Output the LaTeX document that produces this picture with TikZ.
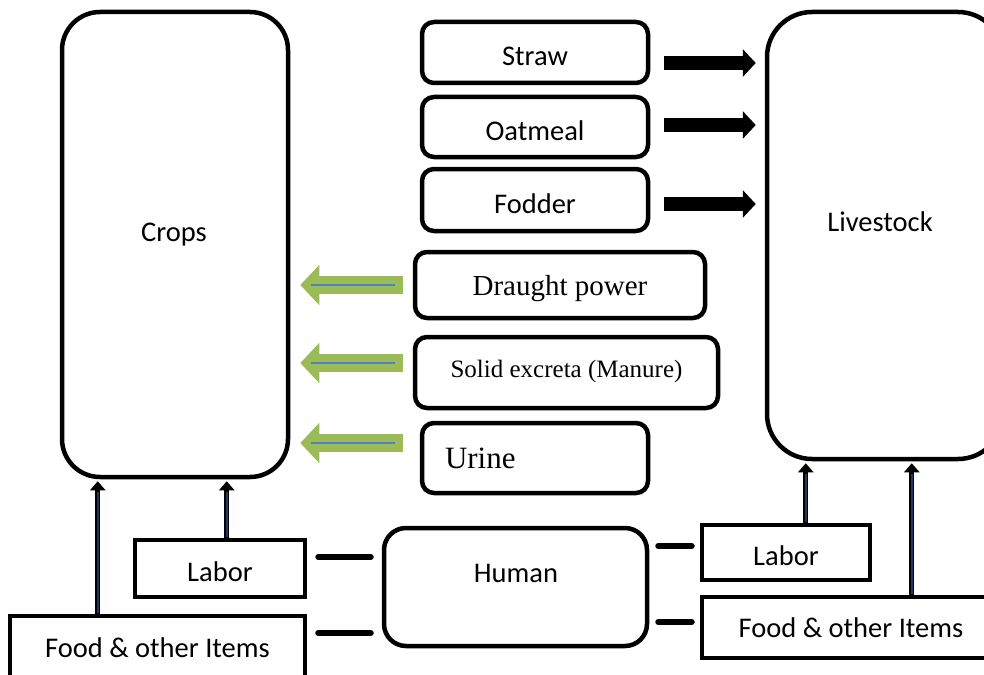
\documentclass[tikz,border=0pt]{standalone}
\usepackage{fontspec}
\setmainfont{Carlito}
\newfontfamily\tnr{Liberation Serif}
\usetikzlibrary{arrows.meta,calc}
\definecolor{agreen}{HTML}{9BBB59}
\definecolor{ablue}{HTML}{4F81BD}
\definecolor{anavy}{HTML}{1F3864}
\tikzset{
  rbox/.style={draw=black, line width=4.5pt, rounded corners=#1, fill=white, inner sep=0pt,
    font=\fontsize{28.5}{34}\selectfont},
  sbox/.style={draw=black, line width=4.5pt, fill=white, inner sep=0pt,
    font=\fontsize{28.5}{34}\selectfont},
  lowtext/.style={text height=28pt, text depth=2pt},
  barrow/.style={line width=14pt, -{Triangle[length=13pt,width=27pt]}},
  garrow/.style={line width=18pt, agreen, -{Triangle[length=19pt,width=39pt]}},
  gline/.style={line width=2.2pt, ablue},
  varrow/.style={line width=5pt, black, -{Triangle[length=9pt,width=15pt]}},
  vinner/.style={line width=1.6pt, anavy, shorten >=11pt, shorten <=1pt},
  conn/.style={line width=6pt, line cap=round},
}
\begin{document}
\begin{tikzpicture}[x=1pt,y=-1pt]
\useasboundingbox (0,0) rectangle (984,674);
\fill[white] (0,0) rectangle (984,674);
\clip (0,0) rectangle (984,674);

% big boxes
\node[rbox=38pt, minimum width=226pt, minimum height=465pt,
  label={[xshift=-1pt,yshift=10pt,font=\fontsize{28.5}{34}\selectfont]center:Crops}] (crops) at (175,244.5) {};
\node[rbox=45pt, minimum width=236pt, minimum height=447pt,
  label={[xshift=-5pt,yshift=13.5pt,font=\fontsize{28.5}{34}\selectfont]center:Livestock}] (live) at (885,235.5) {};

% feed boxes
\node[rbox=12pt, lowtext, minimum width=226pt, minimum height=61pt] (straw) at (535,52.5) {Straw};
\node[rbox=12pt, lowtext, minimum width=226pt, minimum height=60pt] (oat) at (535,127) {Oatmeal};
\node[rbox=12pt, lowtext, minimum width=226pt, minimum height=62pt] (fod) at (535,200) {Fodder};

% livestock outputs
\node[rbox=12pt, minimum width=290pt, minimum height=66pt, text height=24pt, text depth=4pt, font=\tnr\fontsize{29}{34}\selectfont] (draught) at (560,285) {Draught power};
\node[rbox=12pt, minimum width=303pt, minimum height=71pt, text height=17pt, text depth=8pt, font=\tnr\fontsize{25}{30}\selectfont] (solid) at (566.5,372.5) {Solid excreta (Manure)};
\node[rbox=12pt, minimum width=226pt, minimum height=70pt, text width=180pt, align=left,
  font=\tnr\fontsize{31}{36}\selectfont] (urine) at (535,458) {Urine};

% human and bottom boxes
\node[rbox=22pt, minimum width=263pt, minimum height=118pt,
  label={[xshift=0.5pt,yshift=14pt,font=\fontsize{28.5}{34}\selectfont]center:Human}] (human) at (515.5,587) {};
\node[sbox, lowtext, minimum width=170pt, minimum height=57pt] (labL) at (220,568.5) {Labor};
\node[sbox, minimum width=295pt, minimum height=64pt] (foodL) at (157.5,648) {Food \& other Items};
\node[sbox, lowtext, minimum width=168pt, minimum height=55pt] (labR) at (786,552.5) {Labor};
\node[sbox, minimum width=298pt, minimum height=61pt] (foodR) at (851,627.5) {Food \& other Items};

% black feed arrows
\draw[barrow] ($(straw.east)+(14,10.5)$) -- ($(live.west |- straw.east)+(-9,10.5)$);
\draw[barrow] ($(oat.east)+(14,-2)$) -- ($(live.west |- oat.east)+(-9,-2)$);
\draw[barrow] ($(fod.east)+(14,4)$) -- ($(live.west |- fod.east)+(-9,4)$);

% green arrows to crops
\draw[garrow] ($(draught.west)+(-10,0)$) -- ($(crops.east |- draught.west)+(10,0)$);
\draw[gline] ($(draught.west)+(-18,0)$) -- ($(crops.east |- draught.west)+(21,0)$);
\draw[garrow] ($(solid.west)+(-10,-9.5)$) -- ($(crops.east |- solid.west)+(10,-9.5)$);
\draw[gline] ($(solid.west)+(-18,-9.5)$) -- ($(crops.east |- solid.west)+(21,-9.5)$);
\draw[garrow] ($(urine.west)+(-17,-15)$) -- ($(crops.east |- urine.west)+(10,-15)$);
\draw[gline] ($(urine.west)+(-25,-15)$) -- ($(crops.east |- urine.west)+(21,-15)$);

% vertical arrows
\coordinate (a1) at ($(foodL.north west)+(90,0)$);
\coordinate (a2) at ($(labL.north west)+(94,0)$);
\coordinate (a3) at ($(labR.north west)+(106,0)$);
\coordinate (a4) at ($(foodR.north west)+(212,0)$);
\draw[varrow] (a1) -- ($(a1 |- crops.south)+(0,2)$);
\draw[vinner] (a1) -- ($(a1 |- crops.south)+(0,2)$);
\draw[varrow] (a2) -- ($(a2 |- crops.south)+(0,2)$);
\draw[vinner] (a2) -- ($(a2 |- crops.south)+(0,2)$);
\draw[varrow] (a3) -- ($(a3 |- live.south)+(0,2)$);
\draw[vinner] (a3) -- ($(a3 |- live.south)+(0,2)$);
\draw[varrow] (a4) -- ($(a4 |- live.south)+(0,2)$);
\draw[vinner] (a4) -- ($(a4 |- live.south)+(0,2)$);

% human connectors
\draw[conn] ($(labL.east)+(11,-11.5)$) -- ($(human.west)+(-11,-30)$);
\draw[conn] ($(foodL.east)+(11,-15)$) -- ($(human.west)+(-11,46)$);
\draw[conn] ($(human.east)+(9,-41)$) -- ($(labR.west)+(-8,-6.5)$);
\draw[conn] ($(human.east)+(9,35)$) -- ($(foodR.west)+(-8,-5.5)$);
\end{tikzpicture}
\end{document}
